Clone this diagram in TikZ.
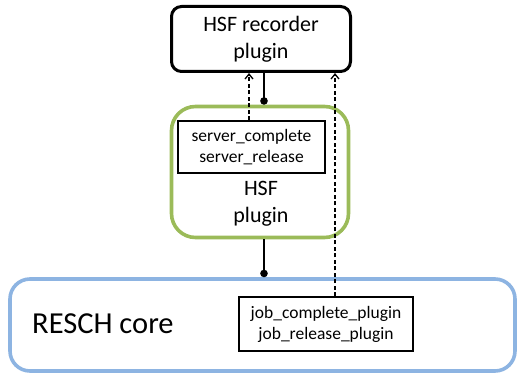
\documentclass[tikz,border=0pt]{standalone}
\usepackage{fontspec}
\setmainfont{Carlito}
\usetikzlibrary{arrows.meta}
\definecolor{hsfgreen}{RGB}{155,187,89}
\definecolor{coreblue}{RGB}{141,180,226}
\begin{document}
\begin{tikzpicture}[x=1pt,y=-1pt,
  recbox/.style={draw=black,line width=3pt,rounded corners=10pt,inner sep=0pt},
  greenbox/.style={draw=hsfgreen,line width=3.6pt,rounded corners=24pt,inner sep=0pt},
  bluebox/.style={draw=coreblue,line width=3.6pt,rounded corners=20pt,inner sep=0pt},
  fnbox/.style={draw=black,line width=1.5pt,fill=white,inner sep=0pt,align=center,font=\fontsize{17.5}{21}\selectfont},
  lbl/.style={align=center,inner sep=0pt},
  solidlink/.style={line width=1.6pt,-{Circle[length=7.5pt]}},
  dashlink/.style={line width=1.5pt,dashed,dash pattern=on 4pt off 2.5pt,-{Straight Barb[length=5pt,width=8pt,line width=1.3pt]}}
]
\useasboundingbox (0,0) rectangle (518,374);
\node[recbox,minimum width=179pt,minimum height=65pt,align=center,font=\fontsize{22}{27}\selectfont] (rec) at (261,39) {HSF recorder\\plugin};
\node[greenbox,minimum width=177pt,minimum height=131pt] (hsf) at (260,172) {};
\node[lbl,font=\fontsize{22}{27}\selectfont] (hsflbl) at (261,204) {HSF\\plugin};
\node[bluebox,minimum width=505pt,minimum height=92pt] (core) at (262.5,325) {};
\node[lbl,anchor=west,font=\fontsize{30.5}{36}\selectfont] (corelbl) at (32,324) {RESCH core};
\node[fnbox,minimum width=147pt,minimum height=52pt] (srv) at (251.5,147) {server\_complete\\server\_release};
\node[fnbox,minimum width=174pt,minimum height=54pt] (job) at (326,324) {job\_complete\_plugin\\job\_release\_plugin};
\coordinate (s1) at (264,0);
\coordinate (d1) at (249,0);
\coordinate (d2) at (335,0);
\draw[solidlink] (rec.south -| s1) -- (hsf.north -| s1);
\draw[solidlink] (hsf.south -| s1) -- (core.north -| s1);
\draw[dashlink] (srv.north -| d1) -- (rec.south -| d1);
\draw[dashlink] (job.north -| d2) -- (rec.south -| d2);
\end{tikzpicture}
\end{document}
